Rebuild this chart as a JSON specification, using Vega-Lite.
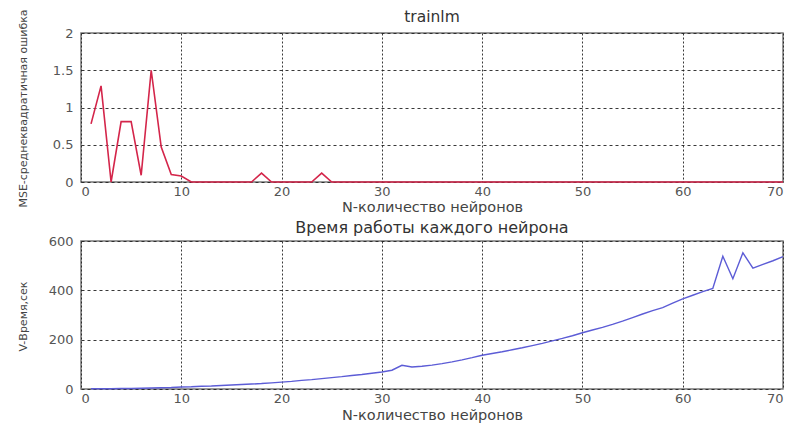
{
  "$schema": "https://vega.github.io/schema/vega-lite/v6.json",
  "autosize": {"type": "pad"},
  "padding": {"left": 16, "top": 8, "right": 0, "bottom": 0},
  "background": "white",
  "spacing": 59,
  "bounds": "flush",
  "config": {
    "font": "DejaVu Sans",
    "view": {"stroke": "#777777", "strokeWidth": 1.5},
    "axis": {
      "labelFont": "DejaVu Sans",
      "labelFontSize": 13,
      "labelColor": "#555555",
      "titleFont": "DejaVu Sans",
      "titleFontWeight": "normal",
      "titleColor": "#444444",
      "domain": false,
      "ticks": false,
      "gridColor": "#222222",
      "gridOpacity": 0.9,
      "gridWidth": 1
    },
    "title": {"font": "DejaVu Sans", "fontWeight": "normal", "color": "#333333"}
  },
  "datasets": {
    "mse": [
      {"n": 1, "v": 0.78}, {"n": 2, "v": 1.29}, {"n": 3, "v": 0}, {"n": 4, "v": 0.81}, {"n": 5, "v": 0.81},
      {"n": 6, "v": 0.09}, {"n": 7, "v": 1.5}, {"n": 8, "v": 0.47}, {"n": 9, "v": 0.1}, {"n": 10, "v": 0.08},
      {"n": 11, "v": 0}, {"n": 12, "v": 0}, {"n": 13, "v": 0}, {"n": 14, "v": 0}, {"n": 15, "v": 0},
      {"n": 16, "v": 0}, {"n": 17, "v": 0}, {"n": 18, "v": 0.12}, {"n": 19, "v": 0}, {"n": 20, "v": 0},
      {"n": 21, "v": 0}, {"n": 22, "v": 0}, {"n": 23, "v": 0}, {"n": 24, "v": 0.12}, {"n": 25, "v": 0},
      {"n": 26, "v": 0}, {"n": 27, "v": 0}, {"n": 28, "v": 0}, {"n": 29, "v": 0}, {"n": 30, "v": 0},
      {"n": 31, "v": 0}, {"n": 32, "v": 0}, {"n": 33, "v": 0}, {"n": 34, "v": 0}, {"n": 35, "v": 0},
      {"n": 36, "v": 0}, {"n": 37, "v": 0}, {"n": 38, "v": 0}, {"n": 39, "v": 0}, {"n": 40, "v": 0},
      {"n": 41, "v": 0}, {"n": 42, "v": 0}, {"n": 43, "v": 0}, {"n": 44, "v": 0}, {"n": 45, "v": 0},
      {"n": 46, "v": 0}, {"n": 47, "v": 0}, {"n": 48, "v": 0}, {"n": 49, "v": 0}, {"n": 50, "v": 0},
      {"n": 51, "v": 0}, {"n": 52, "v": 0}, {"n": 53, "v": 0}, {"n": 54, "v": 0}, {"n": 55, "v": 0},
      {"n": 56, "v": 0}, {"n": 57, "v": 0}, {"n": 58, "v": 0}, {"n": 59, "v": 0}, {"n": 60, "v": 0},
      {"n": 61, "v": 0}, {"n": 62, "v": 0}, {"n": 63, "v": 0}, {"n": 64, "v": 0}, {"n": 65, "v": 0},
      {"n": 66, "v": 0}, {"n": 67, "v": 0}, {"n": 68, "v": 0}, {"n": 69, "v": 0}, {"n": 70, "v": 0}
    ],
    "time": [
      {"n": 1, "t": 1}, {"n": 2, "t": 1}, {"n": 3, "t": 1}, {"n": 4, "t": 2}, {"n": 5, "t": 2},
      {"n": 6, "t": 3}, {"n": 7, "t": 4}, {"n": 8, "t": 5}, {"n": 9, "t": 6}, {"n": 10, "t": 8},
      {"n": 11, "t": 9}, {"n": 12, "t": 11}, {"n": 13, "t": 12}, {"n": 14, "t": 14}, {"n": 15, "t": 16},
      {"n": 16, "t": 18}, {"n": 17, "t": 20}, {"n": 18, "t": 22}, {"n": 19, "t": 25}, {"n": 20, "t": 28},
      {"n": 21, "t": 31}, {"n": 22, "t": 35}, {"n": 23, "t": 38}, {"n": 24, "t": 42}, {"n": 25, "t": 46},
      {"n": 26, "t": 50}, {"n": 27, "t": 55}, {"n": 28, "t": 59}, {"n": 29, "t": 64}, {"n": 30, "t": 69},
      {"n": 31, "t": 76}, {"n": 32, "t": 96}, {"n": 33, "t": 89}, {"n": 34, "t": 92}, {"n": 35, "t": 97},
      {"n": 36, "t": 103}, {"n": 37, "t": 110}, {"n": 38, "t": 118}, {"n": 39, "t": 127}, {"n": 40, "t": 137},
      {"n": 41, "t": 144}, {"n": 42, "t": 151}, {"n": 43, "t": 159}, {"n": 44, "t": 167}, {"n": 45, "t": 176},
      {"n": 46, "t": 185}, {"n": 47, "t": 195}, {"n": 48, "t": 205}, {"n": 49, "t": 216}, {"n": 50, "t": 228},
      {"n": 51, "t": 239}, {"n": 52, "t": 250}, {"n": 53, "t": 262}, {"n": 54, "t": 275}, {"n": 55, "t": 289},
      {"n": 56, "t": 304}, {"n": 57, "t": 318}, {"n": 58, "t": 330}, {"n": 59, "t": 348}, {"n": 60, "t": 365},
      {"n": 61, "t": 380}, {"n": 62, "t": 395}, {"n": 63, "t": 408}, {"n": 64, "t": 538}, {"n": 65, "t": 447},
      {"n": 66, "t": 552}, {"n": 67, "t": 490}, {"n": 68, "t": 505}, {"n": 69, "t": 520}, {"n": 70, "t": 537}
    ]
  },
  "vconcat": [
    {
      "width": 702,
      "height": 149,
      "title": {"text": "trainlm", "offset": -17, "fontSize": 15.5},
      "data": {"name": "mse"},
      "mark": {"type": "line", "color": "#d4254a", "strokeWidth": 1.6},
      "encoding": {
        "x": {
          "field": "n", "type": "quantitative",
          "scale": {"domain": [0, 70], "nice": false},
          "axis": {"values": [0, 10, 20, 30, 40, 50, 60, 70], "title": "N-количество нейронов", "titleFontSize": 14.5, "labelPadding": 3, "titlePadding": 2, "gridDash": [2, 2]}
        },
        "y": {
          "field": "v", "type": "quantitative",
          "scale": {"domain": [0, 2], "nice": false},
          "axis": {"values": [0, 0.5, 1, 1.5, 2], "format": "~g", "title": "MSE-среднеквадратичная ошибка", "titleFontSize": 11, "labelPadding": 8, "titleX": -53, "titleY": 75, "titleBaseline": "bottom", "gridDash": [3, 3]}
        }
      }
    },
    {
      "width": 702,
      "height": 148,
      "title": {"text": "Время работы каждого нейрона", "offset": -1, "fontSize": 16},
      "data": {"name": "time"},
      "mark": {"type": "line", "color": "#5c5cd6", "strokeWidth": 1.4},
      "encoding": {
        "x": {
          "field": "n", "type": "quantitative",
          "scale": {"domain": [0, 70], "nice": false},
          "axis": {"values": [0, 10, 20, 30, 40, 50, 60, 70], "title": "N-количество нейронов", "titleFontSize": 14.5, "labelPadding": 3, "titlePadding": 3, "gridDash": [2, 2]}
        },
        "y": {
          "field": "t", "type": "quantitative",
          "scale": {"domain": [0, 600], "nice": false},
          "axis": {"values": [0, 200, 400, 600], "title": "V-Время,сек", "titleFontSize": 11, "labelPadding": 8, "titleX": -53, "titleY": 75, "titleBaseline": "bottom", "gridDash": [3, 3]}
        }
      }
    }
  ]
}
